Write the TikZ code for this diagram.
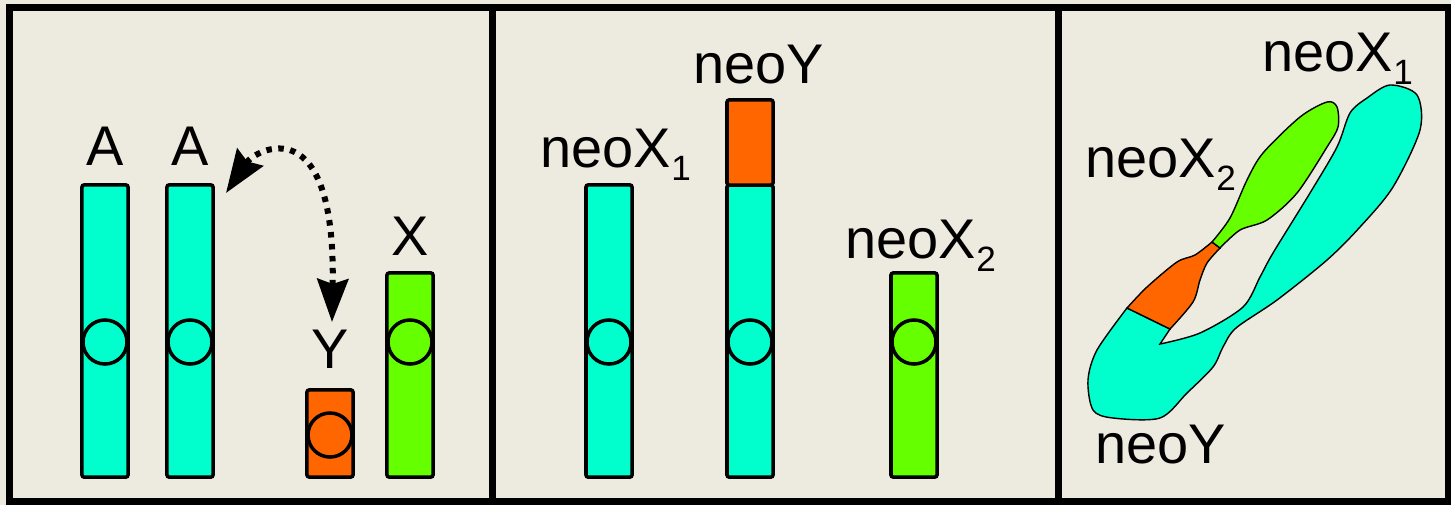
\documentclass[tikz,border=0pt]{standalone}
\usepackage{fontspec}
\setmainfont{Liberation Sans}
\usetikzlibrary{arrows.meta}

\definecolor{bgbeige}{HTML}{EDEAE0}
\definecolor{chrcyan}{HTML}{00FFCC}
\definecolor{chrorange}{HTML}{FF6600}
\definecolor{chrgreen}{HTML}{66FF00}

\newcommand{\lsub}[1]{\raisebox{-3.7pt}{\fontsize{10}{12}\selectfont #1}}

\tikzset{
  chrom/.style={draw, line width=1pt, rounded corners=0.6pt, inner sep=0pt,
    minimum width=0.46cm},
  cen/.style={draw, circle, line width=1pt, inner sep=0pt, minimum size=0.44cm},
  lab/.style={inner sep=0pt, font=\fontsize{15.9}{19}\selectfont},
  blob/.style={draw, line width=0.4pt},
  dotarrow/.style={line width=0.06cm, dash pattern=on 0.055cm off 0.065cm,
    {Stealth[length=0.43cm,width=0.31cm,inset=0.05cm]}-{Stealth[length=0.43cm,width=0.31cm,inset=0.05cm]}}
}

\begin{document}
\begin{tikzpicture}[x=0.01cm, y=-0.01cm]
\useasboundingbox (0,0) rectangle (1451,505);
\fill[bgbeige] (0,0) rectangle (1451,505);

% left panel: autosomes and sex chromosomes
\node[chrom, fill=chrcyan, minimum height=2.92cm] (a1) at (105,331) {};
\node[chrom, fill=chrcyan, minimum height=2.92cm] (a2) at (190,331) {};
\node[chrom, fill=chrorange, minimum height=0.87cm] (y) at (330,433.5) {};
\node[chrom, fill=chrgreen, minimum height=2.04cm] (x) at (410,375) {};
\node[cen] (ca1) at (105,342) {};
\node[cen] (ca2) at (190,342) {};
\node[cen] (cy) at (330,435) {};
\node[cen] (cx) at (410,342) {};
\node[lab, anchor=base] (la1) at (105,165) {A};
\node[lab, anchor=base] (la2) at (190,165) {A};
\node[lab, anchor=base] (ly) at (330,368) {Y};
\node[lab, anchor=base] (lx) at (410,255) {X};
\coordinate (fuseA) at (226,193);
\coordinate (fuseY) at (332,322);
\draw[dotarrow] (fuseA) .. controls (255,150) and (336,105) .. (fuseY);

% middle panel: after the fusion
\node[chrom, fill=chrcyan, minimum height=2.92cm] (nx1) at (609,331) {};
\node[chrom, fill=chrcyan, minimum height=2.92cm] (nya) at (750,331) {};
\node[chrom, fill=chrorange, minimum height=0.85cm] (nyy) at (750,142.5) {};
\node[chrom, fill=chrgreen, minimum height=2.04cm] (nx2) at (914,375) {};
\node[cen] (cnx1) at (609,342) {};
\node[cen] (cny) at (750,342) {};
\node[cen] (cnx2) at (914,342) {};
\node[lab, anchor=base west] (lnx1) at (540,167) {neoX\lsub{1}};
\node[lab, anchor=base west] (lny) at (693,83) {neoY};
\node[lab, anchor=base west] (lnx2) at (845,258) {neoX\lsub{2}};

% right panel: meiotic trivalent
\draw[blob, fill=chrcyan] plot[smooth] coordinates {(1127,308) (1097,350) (1088,380)
  (1093,410) (1113,418) (1160,418) (1187,393) (1213,367) (1223,347) (1236,328)
  (1277,300) (1327,260) (1360,227) (1393,187) (1420,130) (1417,95) (1390,85)
  (1367,98) (1350,113) (1337,147) (1310,193) (1273,253) (1260,277) (1243,307)
  (1200,333) (1160,344)} -- (1170,329) -- cycle;
\draw[blob, fill=chrorange] plot[smooth] coordinates {(1127,308) (1147,287) (1177,262)
  (1195,255) (1212,242)} -- plot[smooth] coordinates {(1220,248) (1207,263) (1200,280)
  (1193,302) (1170,329)} -- cycle;
\draw[blob, fill=chrgreen] plot[smooth] coordinates {(1212,242) (1230,218) (1247,180)
  (1263,153) (1300,117) (1327,102) (1337,107) (1338,127) (1327,147) (1297,193)
  (1267,220) (1240,230) (1220,248)} -- cycle;
\node[lab, anchor=base west] (tnx1) at (1262,71) {neoX\lsub{1}};
\node[lab, anchor=base west] (tnx2) at (1085,177) {neoX\lsub{2}};
\node[lab, anchor=base west] (tny) at (1095,463) {neoY};

% frame
\draw[line width=0.07cm] (9.5,7) rectangle (1448,501.5);
\draw[line width=0.07cm] (492.5,7) -- (492.5,501.5);
\draw[line width=0.07cm] (1058.5,7) -- (1058.5,501.5);
\end{tikzpicture}
\end{document}
